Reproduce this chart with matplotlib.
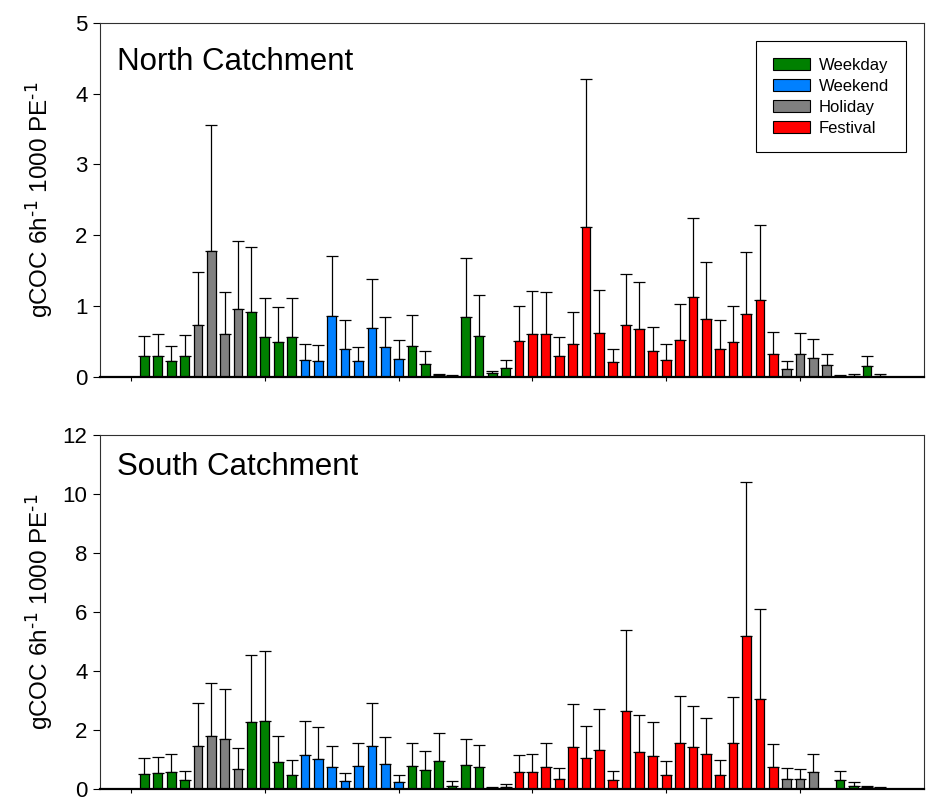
import numpy as np
import matplotlib
matplotlib.use('Agg')
import matplotlib.pyplot as plt
import matplotlib.patches as mpatches

plt.rcParams['font.family'] = ['Liberation Sans', 'DejaVu Sans']
plt.rcParams['mathtext.default'] = 'regular'

# tipo de dia por barra: W = weekday, E = weekend, H = holiday, F = festival
day_type = (['W'] * 4 + ['H'] * 4 + ['W'] * 4 + ['E'] * 8 + ['W'] * 8
            + ['F'] * 20 + ['H'] * 4 + ['W'] * 3 + ['H'])

north_mean = [0.29, 0.30, 0.22, 0.29, 0.74, 1.78, 0.60, 0.96, 0.92, 0.56,
              0.50, 0.56, 0.24, 0.23, 0.86, 0.40, 0.22, 0.69, 0.43, 0.26,
              0.44, 0.18, 0.03, 0.02, 0.84, 0.58, 0.05, 0.12, 0.51, 0.61,
              0.61, 0.30, 0.46, 2.11, 0.62, 0.21, 0.73, 0.67, 0.36, 0.24,
              0.52, 1.13, 0.82, 0.40, 0.50, 0.89, 1.08, 0.33, 0.11, 0.32,
              0.27, 0.17, 0.02, 0.02, 0.15, 0.02]
north_upper = [0.58, 0.60, 0.44, 0.59, 1.48, 3.56, 1.20, 1.92, 1.83, 1.12,
               0.99, 1.12, 0.47, 0.45, 1.71, 0.80, 0.43, 1.38, 0.84, 0.52,
               0.87, 0.36, 0.04, 0.025, 1.68, 1.15, 0.08, 0.24, 1.00, 1.22,
               1.20, 0.57, 0.92, 4.21, 1.23, 0.40, 1.46, 1.34, 0.71, 0.47,
               1.03, 2.24, 1.62, 0.81, 1.00, 1.77, 2.15, 0.64, 0.22, 0.62,
               0.53, 0.33, 0.03, 0.04, 0.29, 0.04]

south_mean = [0.52, 0.54, 0.58, 0.30, 1.45, 1.79, 1.68, 0.69, 2.27, 2.32,
              0.90, 0.47, 1.14, 1.03, 0.73, 0.26, 0.77, 1.45, 0.86, 0.24,
              0.77, 0.63, 0.95, 0.11, 0.83, 0.73, 0.04, 0.07, 0.57, 0.57,
              0.75, 0.34, 1.42, 1.04, 1.33, 0.29, 2.66, 1.24, 1.13, 0.47,
              1.57, 1.41, 1.18, 0.48, 1.55, 5.20, 3.04, 0.76, 0.35, 0.33,
              0.59, np.nan, 0.30, 0.11, 0.06, 0.04]
south_upper = [1.06, 1.08, 1.18, 0.62, 2.91, 3.60, 3.38, 1.38, 4.56, 4.67,
               1.81, 0.97, 2.31, 2.11, 1.46, 0.54, 1.57, 2.91, 1.76, 0.49,
               1.57, 1.28, 1.91, 0.28, 1.70, 1.48, 0.06, 0.16, 1.16, 1.18,
               1.55, 0.70, 2.89, 2.14, 2.70, 0.60, 5.38, 2.50, 2.28, 0.95,
               3.16, 2.81, 2.40, 1.00, 3.11, 10.40, 6.09, 1.52, 0.72, 0.68,
               1.19, np.nan, 0.62, 0.22, 0.11, 0.07]

colors = {'W': '#008000', 'E': '#0080FF', 'H': '#808080', 'F': '#FF0000'}
labels = {'W': 'Weekday', 'E': 'Weekend', 'H': 'Holiday', 'F': 'Festival'}

fig = plt.figure(figsize=(9.31, 7.98), dpi=100)
ax1 = fig.add_axes([0.1074, 0.5276, 0.8851, 0.444])
ax2 = fig.add_axes([0.1074, 0.0113, 0.8851, 0.4432])

x = np.arange(1, len(day_type) + 1)
bar_colors = [colors[d] for d in day_type]


def draw_panel(ax, mean, upper, ymax, ystep, title, ty):
    mean = np.array(mean)
    err = np.array(upper) - mean
    ax.bar(x, np.nan_to_num(mean), width=0.65, color=bar_colors,
           edgecolor='black', linewidth=0.9, zorder=2)
    ax.errorbar(x, mean, yerr=[np.zeros_like(err), err], fmt='none',
                ecolor='black', elinewidth=0.9, capsize=4.0, capthick=0.9,
                zorder=1)
    ax.set_xlim(-2.32, 59.27)
    ax.set_ylim(0, ymax)
    ax.set_yticks(np.arange(0, ymax + 0.1, ystep))
    ax.set_xticks(np.arange(0, 51, 10))
    ax.set_xticklabels([])
    ax.tick_params(axis='y', direction='out', length=5, width=0.8,
                   labelsize=16, pad=4)
    ax.tick_params(axis='x', direction='out', length=3, width=0.8)
    for s in ['left', 'top', 'right']:
        ax.spines[s].set_linewidth(0.8)
        ax.spines[s].set_color('#303030')
    ax.spines['bottom'].set_linewidth(1.6)
    ax.spines['bottom'].set_color('black')
    ax.set_ylabel(r'gCOC 6h$^{\text{-1}}$ 1000 PE$^{\text{-1}}$', fontsize=17.5)
    ax.yaxis.set_label_coords(-0.055, 0.5)
    ax.text(0.021, ty, title, transform=ax.transAxes, fontsize=22.5,
            va='center', ha='left')


draw_panel(ax1, north_mean, north_upper, 5, 1, 'North Catchment', 0.89)
draw_panel(ax2, south_mean, south_upper, 12, 2, 'South Catchment', 0.91)

leg = ax1.legend(handles=[mpatches.Patch(facecolor=colors[k], edgecolor='black',
                                         linewidth=0.8, label=labels[k])
                          for k in ['W', 'E', 'H', 'F']],
                 loc='upper right', bbox_to_anchor=(0.978, 0.948),
                 fontsize=12, fancybox=False, framealpha=1,
                 handlelength=2.2, handleheight=0.75, labelspacing=0.36,
                 borderpad=1.0, handletextpad=0.55, borderaxespad=0)
leg.get_frame().set_edgecolor('black')
leg.get_frame().set_linewidth(0.8)

plt.savefig('out.png', dpi=100)
plt.close()
